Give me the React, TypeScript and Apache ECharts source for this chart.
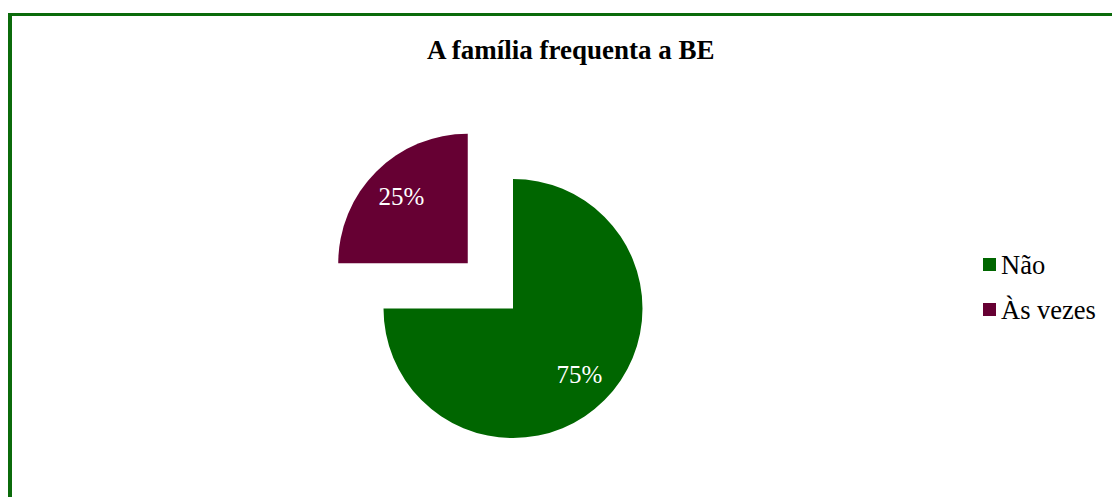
import React, { useEffect, useRef } from "react";
import * as echarts from "echarts";

const TITLE = "A família frequenta a BE";
const categories = ["Não", "Às vezes"];
const values = [75, 25];
const colors = ["#006600", "#660033"];
const exploded = [false, true];

const FONT = "'Liberation Serif', 'Times New Roman', serif";

export default function App() {
  const ref = useRef<HTMLDivElement>(null);
  useEffect(() => {
    if (!ref.current) return;
    const chart = echarts.init(ref.current, null, { renderer: "svg" });
    const data = categories.map((name, i) => ({
      name,
      value: values[i],
      selected: exploded[i],
      itemStyle: { color: colors[i] },
    }));
    const common = {
      type: "pie",
      center: [513, 308.5],
      startAngle: 90,
      clockwise: true,
      selectedMode: "multiple",
      selectedOffset: 64,
      emphasis: { disabled: true },
      labelLine: { show: false },
      avoidLabelOverlap: false,
    };
    chart.setOption({
      animation: false,
      backgroundColor: "#ffffff",
      title: {
        text: TITLE,
        left: 427,
        top: 36,
        padding: 0,
        textStyle: { fontFamily: FONT, fontSize: 27, fontWeight: "bold", color: "#000", lineHeight: 27 },
      },
      legend: {
        orient: "vertical",
        left: 983,
        top: 251,
        padding: 0,
        itemWidth: 13,
        itemHeight: 13,
        itemGap: 18,
        icon: "rect",
        selectedMode: false,
        data: categories,
        textStyle: { fontFamily: FONT, fontSize: 26.5, color: "#000", lineHeight: 26, padding: 0 },
      },
      graphic: [
        { type: "rect", left: 8, top: 13, shape: { width: 4, height: 484 }, style: { fill: "#0b6b0b" } },
        { type: "rect", left: 8, top: 13, shape: { width: 1104, height: 3 }, style: { fill: "#0b6b0b" } },
      ],
      series: [
        {
          ...common,
          radius: [0, 129.5],
          silent: true,
          label: { show: false },
          data,
        },
        {
          ...common,
          radius: [52, 129.5],
          silent: true,
          label: {
            show: true,
            position: "inside",
            formatter: "{d}%",
            color: "#ffffff",
            fontFamily: FONT,
            fontSize: 25,
          },
          data: data.map((d) => ({ ...d, itemStyle: { color: "rgba(0,0,0,0)" } })),
        },
      ],
    });
    return () => chart.dispose();
  }, []);
  return (
    <div
      ref={ref}
      style={{ position: "fixed", left: 0, top: 0, width: 1112, height: 497 }}
    />
  );
}
